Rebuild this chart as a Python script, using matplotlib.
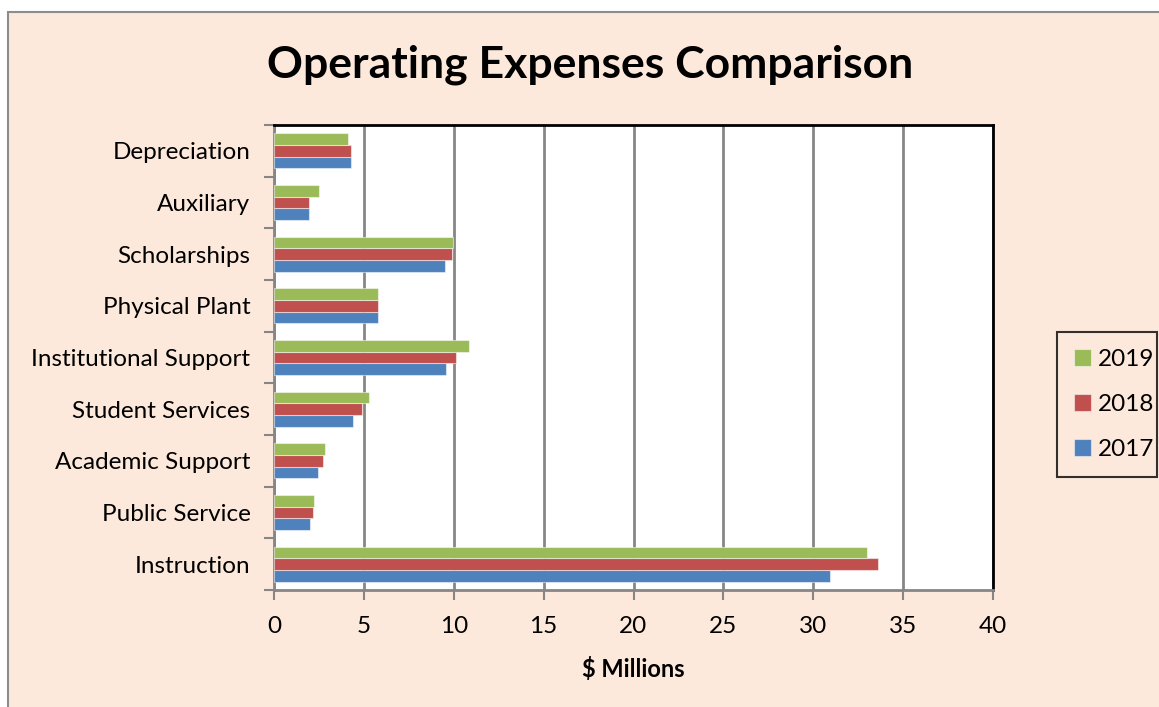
import numpy as np
import matplotlib.pyplot as plt
from matplotlib.patches import Rectangle

plt.rcParams['font.family'] = ['Lato', 'DejaVu Sans']

# data ($ millions), bottom to top
categories = ["Instruction", "Public Service", "Academic Support", "Student Services",
              "Institutional Support", "Physical Plant", "Scholarships", "Auxiliary",
              "Depreciation"]
y2017 = [30.94, 2.03, 2.46, 4.38, 9.55, 5.79, 9.53, 1.97, 4.30]
y2018 = [33.63, 2.16, 2.73, 4.91, 10.15, 5.79, 9.93, 1.97, 4.27]
y2019 = [33.00, 2.24, 2.86, 5.28, 10.83, 5.79, 9.98, 2.50, 4.10]

years = ["2017", "2018", "2019"]
colors = ["#4F81BD", "#C0504D", "#9BBB59"]
peach = "#FDE9DB"

fig = plt.figure(figsize=(11.59, 7.07), dpi=100)
fig.patch.set_facecolor("white")
# chart area background with grey border
bg = Rectangle((8/1159, -0.01), 1.0, (707-12)/707 + 0.01, transform=fig.transFigure,
               facecolor=peach, edgecolor="#8C8C8C", linewidth=1.5, zorder=-10)
fig.patches.append(bg)

ax = fig.add_axes([274/1159, 1-590/707, 719/1159, 465/707])
ax.set_facecolor("white")

y = np.arange(len(categories))
h = 0.225
bars = []
for k, (vals, c) in enumerate(zip([y2017, y2018, y2019], colors)):
    b = ax.barh(y + (k-1)*h, vals, height=h, color=c, edgecolor=(1, 1, 1, 0.5),
                linewidth=0.8, zorder=3, label=years[k])
    bars.append(b)

ax.set_xlim(0, 40)
ax.set_ylim(-0.5, len(categories)-0.5)
ax.set_xticks(np.arange(0, 41, 5))
ax.set_yticks(y)
ax.set_yticklabels(categories)
ax.set_yticks(np.arange(-0.5, len(categories), 1), minor=True)
ax.tick_params(axis='y', which='major', length=0, pad=17, labelsize=17.5)
ax.tick_params(axis='y', which='minor', length=7, width=1.5, color="#868686")
ax.tick_params(axis='x', length=7, width=1.5, color="#868686", labelsize=17.5, pad=12)

ax.xaxis.grid(True, color="#868686", linewidth=2, zorder=0)
ax.set_axisbelow(True)
for s in ["left", "bottom"]:
    ax.spines[s].set_color("#868686")
    ax.spines[s].set_linewidth(2)
for s in ["top", "right"]:
    ax.spines[s].set_color("black")
    ax.spines[s].set_linewidth(2)

ax.set_xlabel("\\$ Millions", fontsize=17, fontweight="bold", labelpad=14)

fig.text(0.509, 0.908, "Operating Expenses Comparison", ha="center", va="center",
         fontsize=32, fontweight="bold")

leg = fig.legend(handles=bars[::-1], labels=years[::-1], loc="center",
                 bbox_to_anchor=(1057/1159, 1-477/707, 100/1159, 145/707),
                 mode="expand",
                 fontsize=17.5, frameon=True, fancybox=False, edgecolor="black",
                 handlelength=0.7, handleheight=0.7, handletextpad=0.3,
                 labelspacing=1.0, borderpad=0.7, borderaxespad=0)
leg.get_frame().set_facecolor(peach)
leg.get_frame().set_linewidth(1.5)

fig.savefig("out.png", dpi=100, facecolor=fig.get_facecolor())
